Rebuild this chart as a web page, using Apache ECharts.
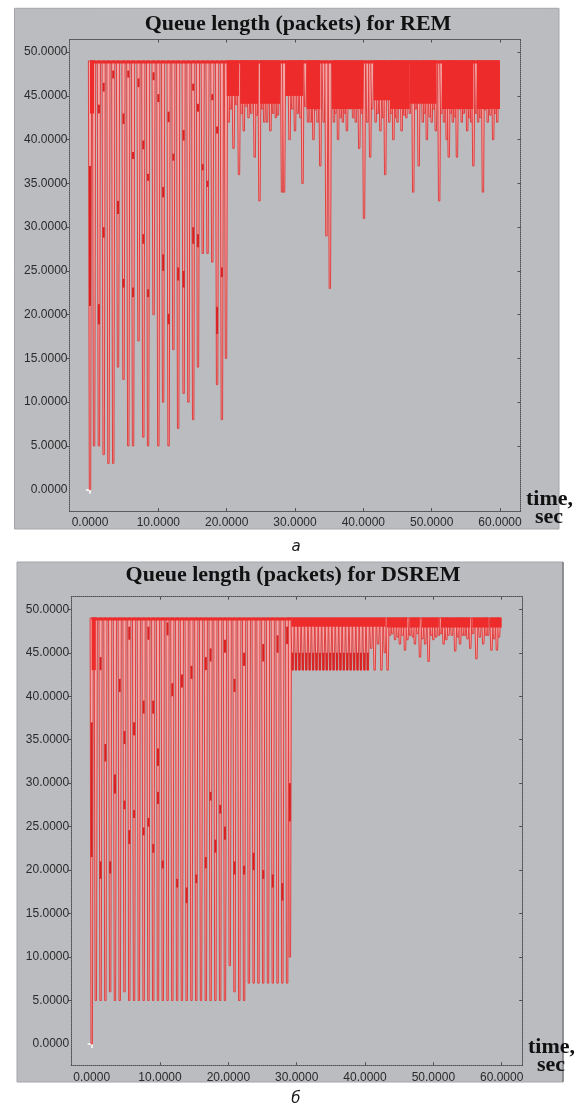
<!DOCTYPE html>
<html><head><meta charset="utf-8">
<script src="https://cdn.jsdelivr.net/npm/echarts@6/dist/echarts.min.js"></script>
<style>html,body{margin:0;padding:0;background:#fff}#c{width:578px;height:1107px}</style>
</head><body><div id="c"></div>
<script>
// ---------- shared axis data ----------
const xTicks = [0, 10, 20, 30, 40, 50, 60];
const yTicks = [0, 5, 10, 15, 20, 25, 30, 35, 40, 45, 50];
const queueMax = 49;

// ---------- REM (panel a) ----------
const remDipT = [0.0, 0.6, 1.3, 2.0, 2.7, 3.4, 4.1, 4.9, 5.6, 6.3, 7.1, 7.8, 8.5, 9.3, 10.0, 10.7, 11.5, 12.2, 12.9, 13.7, 14.4, 15.1, 15.8, 16.5, 17.2, 17.9, 18.6, 19.3, 19.9,
  20.3, 21.0, 21.8, 22.5, 23.2, 24.1, 24.8, 25.5, 26.4, 27.2, 28.1, 28.4, 29.2, 30.0, 31.1, 31.9, 32.7, 33.3, 33.7, 34.2,
  34.6, 35.1, 35.7, 36.3, 37.0, 37.6, 38.5, 39.4, 40.1, 40.6, 41.0, 41.8, 42.5, 43.2, 43.8, 44.4, 45.0, 45.6, 46.3, 47.3,
  48.1, 48.7, 49.3, 50.0, 50.6, 51.1, 51.8, 52.2, 52.5, 53.1, 53.7, 54.4, 55.2, 55.8, 56.1, 56.8, 57.5, 58.2, 59.0, 59.6,
  20.6, 21.4, 22.2, 22.9, 23.6, 24.4, 25.2, 25.9, 26.8, 27.5, 29.6, 30.4, 30.8, 31.5, 32.3, 33.0, 35.9, 36.7, 37.3, 38.1,
  38.9, 39.8, 41.3, 42.1, 42.9, 44.1, 44.8, 45.3, 46.0, 46.8, 47.7, 49.0, 49.7, 50.3, 51.4, 52.8, 53.4, 54.0, 54.7, 55.5,
  56.5, 57.1, 57.8, 58.6, 59.3];
const remDipMin = [0, 5, 5, 4, 3, 3, 14, 12.6, 5, 5, 17, 6, 5, 20, 5, 10, 5, 16, 7, 11, 10, 8, 14, 27, 27, 26, 12, 8, 15,
  42, 39, 36, 41, 42.5, 38, 33, 42, 41, 42.5, 34, 34, 40, 41, 35, 42, 40, 42, 37, 42,
  29, 23, 42, 40, 42, 41, 42.5, 39, 31, 42, 38, 42, 41, 36, 42, 40, 42, 41, 42.5, 34,
  37, 42, 40, 42, 41, 33, 42, 40, 38, 42, 38, 42, 41, 42, 37, 42, 34, 42, 40, 42,
  43.5, 44, 43, 43.8, 43, 42.8, 43.5, 42, 43, 42.8, 43.5, 43, 42.5, 43.8, 42, 43.4, 43, 42.5, 43, 43.5,
  42, 43, 43.5, 43, 42.5, 43, 42.5, 43.8, 42.8, 43, 43.5, 43, 42.6, 43.5, 43, 43, 42.6, 43.5, 43, 42.5,
  43, 42.5, 43.4, 42.8, 43];
const remBandT0 = [0.0, 0.0, 20.0, 22.0, 24.9, 28.6, 31.7, 35.4, 41.5, 43.9, 46.8, 51.5, 56.6, 20.0];
const remBandT1 = [0.6, 20.0, 21.8, 24.6, 27.8, 31.2, 33.7, 40.0, 43.9, 46.8, 50.7, 56.1, 60.0, 60.0];
const remBandLow = [43, 48.7, 45, 44.1, 44.1, 45, 43.5, 43.5, 44.5, 43.5, 44.1, 43.5, 43.5, 48.7];
const remDarkT = [1.3, 2.0, 3.4, 4.9, 5.6, 6.3, 7.1, 7.8, 8.5, 9.3, 10.0, 10.7, 11.5, 12.2, 13.7, 15.1, 15.8, 16.5, 17.2, 17.9, 18.6,
  1.3, 2.0, 4.1, 4.9, 6.3, 7.8, 8.5, 10.7, 11.5, 12.9, 13.7, 15.1, 15.8, 18.6, 19.3, 0.0];
const remDarkHi = [44, 46.5, 47.9, 43, 47.9, 38.6, 47, 39.9, 36.1, 47.7, 45.2, 34.6, 43.2, 38.4, 41.1, 46.4, 44.1, 37.2, 35.3, 45.2, 41.5,
  21.2, 30, 33, 24.1, 23.1, 29.2, 22.9, 26.9, 20.1, 25.4, 25, 30, 29.2, 20.9, 25.4, 37];
const remDarkLo = [43, 45.5, 47, 41.8, 47.1, 37.8, 46, 38.9, 35.3, 46.8, 44.3, 33.4, 42, 37.6, 39.9, 45.6, 43.2, 36.5, 34.6, 44.5, 40.7,
  18.9, 28.8, 31.5, 23.1, 22, 28.1, 22, 25, 18.9, 23.9, 23.1, 28.1, 27.7, 17.8, 24.3, 21];

// ---------- DSREM (panel b) ----------
const dsDipT = [0.0, 0.6, 1.3, 2.0, 2.7, 3.4, 4.1, 4.8, 5.5, 6.2, 6.9, 7.6, 8.3, 9.0, 9.7, 10.4, 11.1, 11.8, 12.5, 13.2, 13.9, 14.6,
  15.3, 16.0, 16.7, 17.4, 18.1, 18.8, 19.5, 20.2, 20.9, 21.6, 22.3, 23.0, 23.7, 24.4, 25.1, 25.8, 26.5, 27.2, 27.9, 28.6, 29.0,
  29.4, 29.9, 30.4, 30.9, 31.4, 31.9, 32.4, 32.9, 33.4, 33.9, 34.4, 34.9, 35.4, 35.9, 36.4, 36.9, 37.4, 37.9, 38.4, 38.9, 39.4, 39.9, 40.4,
  40.9, 41.4, 41.9, 42.4, 42.9, 43.3,
  43.65, 44.4, 45.1, 45.85, 46.6, 47.3, 48.05, 48.8, 49.3, 50.0, 50.8, 51.5, 52.2, 53.2, 53.9, 54.6, 55.4, 56.3, 57.3, 58.0, 58.5, 59.3,
  44.0, 44.8, 45.5, 46.2, 47.0, 47.7, 48.4, 49.7, 50.4, 51.1, 51.9, 52.7, 53.6, 54.3, 55.0, 55.8, 56.8, 57.7, 58.9, 59.6];
const dsDipMin = [0, 5, 5, 5, 6, 5, 5, 6, 5, 5, 5, 5, 5, 5, 5, 5, 5, 5, 5, 5, 5, 5,
  5, 5, 5, 5, 5, 5, 5, 9, 6, 5, 5, 7, 7, 7, 7, 7, 7, 7, 7, 7, 10,
  43, 43, 43, 43, 43, 43, 43, 43, 43, 43, 43, 43, 43, 43, 43, 43, 43, 43, 43, 43, 43, 43, 43,
  45.5, 43, 46, 43, 45, 43,
  47, 46.5, 46, 45.3, 47, 46, 44.5, 46, 44, 46.5, 47, 46, 47, 45.2, 46, 47, 45.5, 44.3, 46, 47, 45.3, 45.3,
  47.2, 46.8, 47, 46.5, 46.8, 47.2, 46.6, 47, 46.8, 47.2, 46.5, 47, 46.8, 47, 46.6, 47.2, 46.8, 47, 46.6, 46.8];
const dsBandT0 = [0.0, 0.0, 29.2, 43.2, 46.5, 48.3, 51.1, 55.7, 58.3];
const dsBandT1 = [0.6, 29.2, 43.0, 46.2, 48.0, 50.8, 55.4, 58.1, 60.0];
const dsBandLow = [43, 48.7, 48, 47.9, 47.9, 47.9, 47.9, 47.9, 47.9];
const dsDarkT = [29.4, 29.9, 30.4, 30.9, 31.4, 31.9, 32.4, 32.9, 33.4, 33.9, 34.4, 34.9, 35.4, 35.9, 36.4, 36.9, 37.4, 37.9, 38.4, 38.9, 39.4, 39.9, 40.4,
  1.3, 2.0, 3.4, 4.1, 4.8, 5.5, 6.2, 7.6, 8.3, 9.0, 9.7, 11.1, 11.8, 13.2, 14.6, 16.7, 17.4, 19.5, 20.9, 22.3, 25.1, 27.2, 28.6,
  0.0, 1.3, 2.7, 3.4, 4.8, 5.5, 6.2, 7.6, 8.3, 9.0, 9.7, 10.4, 12.5, 13.9, 15.3, 16.7, 17.4, 18.1, 18.8, 19.5, 20.9, 22.3, 23.7, 25.1, 26.5, 27.9, 29.0];
const dsDarkHi = [45, 45, 45, 45, 45, 45, 45, 45, 45, 45, 45, 45, 45, 45, 45, 45, 45, 45, 45, 45, 45, 45, 45,
  44.5, 34.5, 31, 42, 36, 48, 37, 39.5, 48, 39.5, 34, 48.5, 41.5, 42.5, 43.5, 44.5, 45.5, 46.5, 42, 45, 46, 47, 48,
  37, 21, 21, 30, 28, 24.6, 26.9, 24.9, 26, 23, 29, 21.1, 19, 18, 19.5, 21.5, 29, 23.5, 27.5, 25, 21, 20.5, 22, 20, 19.5, 18.5, 30];
const dsDarkLo = [43, 43, 43, 43, 43, 43, 43, 43, 43, 43, 43, 43, 43, 43, 43, 43, 43, 43, 43, 43, 43, 43, 43,
  43, 32.5, 29, 40.5, 34.5, 46.5, 35.5, 38, 46.5, 38, 32, 47, 40, 41, 42, 43, 44, 45, 40.5, 43.5, 44, 45, 46,
  21.5, 19, 19.6, 28.8, 27, 23, 26, 24, 25, 22, 27.6, 20.2, 18, 16.2, 18.5, 20.2, 28, 22, 26.5, 23.5, 19.5, 19.5, 20, 19, 18, 16.5, 25.6];

// ---------- build ----------
const C = { pink: '#f4a4a4', edge: '#e03434', red: '#ee2b2b', dark: '#d92222' };
const FONT_NUM = 'Liberation Sans, Arial, sans-serif';
const FONT_SERIF = 'Liberation Serif, Times New Roman, serif';
const zip = (...arrs) => arrs[0].map((_, i) => arrs.map(a => a[i]));
const fmt = v => Number(v).toFixed(4);
const axisColor = '#4e5053';

function dipRender(params, api) {
  const t = api.value(0), mn = api.value(1);
  const a = api.coord([t, queueMax]), b = api.coord([t, mn]);
  const w = 3.2, wb = 1.4;
  return { type: 'polygon',
    shape: { points: [[a[0] - w / 2, a[1]], [a[0] + w / 2, a[1]], [b[0] + wb / 2, b[1]], [b[0] - wb / 2, b[1]]] },
    style: { fill: C.pink, stroke: C.edge, lineWidth: 0.9 } };
}
function bandRender(params, api) {
  const a = api.coord([api.value(0), queueMax]), b = api.coord([api.value(1), api.value(2)]);
  return { type: 'rect', shape: { x: a[0], y: a[1] - 0.5, width: b[0] - a[0], height: b[1] - a[1] + 0.5 },
    style: { fill: C.red } };
}
function darkRender(params, api) {
  const t = api.value(0);
  const a = api.coord([t, api.value(1)]), b = api.coord([t, api.value(2)]);
  return { type: 'rect', shape: { x: a[0] - 1, y: a[1], width: 2, height: b[1] - a[1] },
    style: { fill: C.dark } };
}

const grids = [
  { left: 69.5, top: 39.5, width: 451, height: 471.6 },
  { left: 71.2, top: 596.7, width: 451, height: 468.6 }
];
const X_MIN = -3, X_MAX = 63, Y_MIN = -2.45, Y_MAX = 51.45;

const xAxes = [], yAxes = [];
const lineStyle = { color: axisColor, type: 'dotted', width: 1 };
grids.forEach((g, gi) => {
  const base = { gridIndex: gi, type: 'value', min: X_MIN, max: X_MAX, splitLine: { show: false } };
  const ybase = { gridIndex: gi, type: 'value', min: Y_MIN, max: Y_MAX, splitLine: { show: false } };
  xAxes.push(Object.assign({}, base, { position: 'bottom',
    axisLine: { show: true, onZero: false, lineStyle },
    axisTick: { show: true, inside: true, length: 3, customValues: xTicks.filter(v => v !== 0), lineStyle: { color: axisColor } },
    axisLabel: { customValues: xTicks, formatter: fmt, margin: 6, fontSize: 12, color: '#2a2a2a', fontFamily: FONT_NUM } }));
  xAxes.push(Object.assign({}, base, { position: 'top',
    axisLine: { show: true, onZero: false, lineStyle },
    axisTick: { show: true, inside: true, length: 3, customValues: xTicks.filter(v => v !== 0), lineStyle: { color: axisColor } },
    axisLabel: { show: false } }));
  xAxes.push(Object.assign({}, base, { position: 'bottom', axisLine: { show: false },
    axisTick: { show: true, inside: true, length: 3, customValues: [0], lineStyle: { color: '#ffffff', width: 1.5 } },
    axisLabel: { show: false } }));
  xAxes.push(Object.assign({}, base, { position: 'top', axisLine: { show: false },
    axisTick: { show: true, inside: true, length: 4, customValues: [0], lineStyle: { color: '#ffffff', width: 1.5 } },
    axisLabel: { show: false } }));
  yAxes.push(Object.assign({}, ybase, { position: 'left',
    axisLine: { show: true, onZero: false, lineStyle },
    axisTick: { show: true, inside: false, length: 3, customValues: yTicks.filter(v => v !== 0), lineStyle: { color: axisColor } },
    axisLabel: { customValues: yTicks, formatter: fmt, margin: 2, fontSize: 12, color: '#2a2a2a', fontFamily: FONT_NUM } }));
  yAxes.push(Object.assign({}, ybase, { position: 'right',
    axisLine: { show: true, onZero: false, lineStyle },
    axisTick: { show: true, inside: true, length: 3, customValues: yTicks.filter(v => v !== 0), lineStyle: { color: axisColor } },
    axisLabel: { show: false } }));
  yAxes.push(Object.assign({}, ybase, { position: 'left', axisLine: { show: false },
    axisTick: { show: true, inside: false, length: 3, customValues: [0], lineStyle: { color: '#ffffff', width: 1.5 } },
    axisLabel: { show: false } }));
  yAxes.push(Object.assign({}, ybase, { position: 'right', axisLine: { show: false },
    axisTick: { show: true, inside: true, length: 4, customValues: [0], lineStyle: { color: '#ffffff', width: 1.5 } },
    axisLabel: { show: false } }));
});

function panelSeries(gi, dipT, dipMin, bT0, bT1, bLow, dT, dHi, dLo) {
  const xi = gi * 4, yi = gi * 4;
  return [
    { type: 'custom', xAxisIndex: xi, yAxisIndex: yi, renderItem: dipRender, data: zip(dipT, dipMin),
      encode: { x: 0, y: 1 }, silent: true, z: 3 },
    { type: 'custom', xAxisIndex: xi, yAxisIndex: yi, renderItem: darkRender, data: zip(dT, dHi, dLo),
      encode: { x: 0, y: [1, 2] }, silent: true, z: 4 },
    { type: 'custom', xAxisIndex: xi, yAxisIndex: yi, renderItem: bandRender, data: zip(bT0, bT1, bLow),
      encode: { x: [0, 1], y: 2 }, silent: true, z: 5 }
  ];
}

const series = [].concat(
  panelSeries(0, remDipT, remDipMin, remBandT0, remBandT1, remBandLow, remDarkT, remDarkHi, remDarkLo),
  panelSeries(1, dsDipT, dsDipMin, dsBandT0, dsBandT1, dsBandLow, dsDarkT, dsDarkHi, dsDarkLo)
);

const serifBold = { fontFamily: FONT_SERIF, fontWeight: 'bold', fontSize: 22, fill: '#111' };
const graphic = [
  { type: 'rect', z: -10, shape: { x: 14.5, y: 8.3, width: 544.5, height: 520.7 }, style: { fill: '#babcbf', stroke: '#a4a6a9', lineWidth: 1 } },
  { type: 'rect', z: -10, shape: { x: 17, y: 562, width: 546, height: 520 }, style: { fill: '#babcbf', stroke: '#a4a6a9', lineWidth: 1 } },
  { type: 'line', z: -9, shape: { x1: 563, y1: 562, x2: 563, y2: 1082 }, style: { stroke: '#7d7f82', lineWidth: 1.5 } },
  { type: 'text', z: 10, style: Object.assign({ text: 'Queue length (packets) for REM', x: 298, y: 24, textAlign: 'center', textVerticalAlign: 'middle' }, serifBold) },
  { type: 'text', z: 10, style: Object.assign({ text: 'Queue length (packets) for DSREM', x: 293, y: 575, textAlign: 'center', textVerticalAlign: 'middle' }, serifBold) },
  { type: 'text', z: 10, style: Object.assign({ text: 'time,', x: 526, y: 499, textAlign: 'left', textVerticalAlign: 'middle' }, serifBold) },
  { type: 'text', z: 10, style: Object.assign({ text: 'sec', x: 535, y: 517, textAlign: 'left', textVerticalAlign: 'middle' }, serifBold) },
  { type: 'text', z: 10, style: Object.assign({ text: 'time,', x: 528, y: 1047, textAlign: 'left', textVerticalAlign: 'middle' }, serifBold) },
  { type: 'text', z: 10, style: Object.assign({ text: 'sec', x: 537, y: 1065, textAlign: 'left', textVerticalAlign: 'middle' }, serifBold) },
  { type: 'text', z: 10, style: { text: 'а', x: 296, y: 547, textAlign: 'center', textVerticalAlign: 'middle', fontFamily: 'DejaVu Sans, sans-serif', fontStyle: 'italic', fontSize: 15, fill: '#1a1a1a' } },
  { type: 'text', z: 10, style: { text: 'б', x: 296, y: 1099, textAlign: 'center', textVerticalAlign: 'middle', fontFamily: 'DejaVu Sans, sans-serif', fontStyle: 'italic', fontSize: 15, fill: '#1a1a1a' } }
];

const chart = echarts.init(document.getElementById('c'), null, { renderer: 'canvas' });
chart.setOption({
  backgroundColor: '#ffffff',
  animation: false,
  grid: grids,
  xAxis: xAxes,
  yAxis: yAxes,
  series,
  graphic
});
</script></body></html>
